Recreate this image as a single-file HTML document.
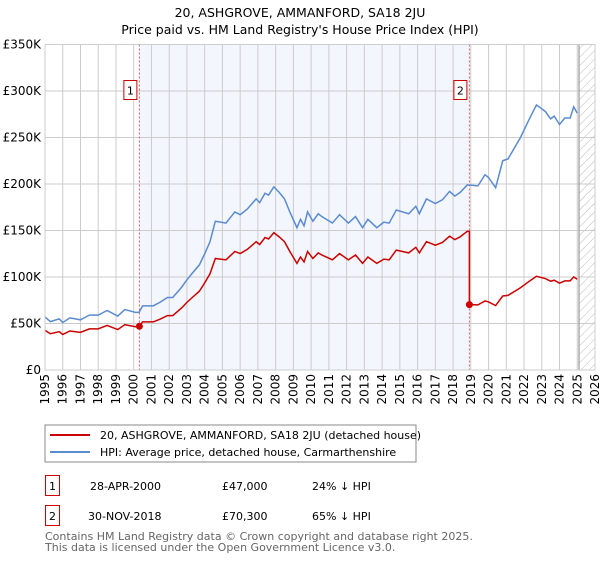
<!DOCTYPE html>
<html><head><meta charset="utf-8"><style>
body{margin:0;background:#fff;font-family:"DejaVu Sans","Liberation Sans",sans-serif;}
svg text{font-family:"DejaVu Sans","Liberation Sans",sans-serif;}
</style></head><body>
<svg id="chart" width="600" height="560" xmlns="http://www.w3.org/2000/svg">
<defs><pattern id="hatch" width="6" height="6" patternUnits="userSpaceOnUse" patternTransform="rotate(45)"><line x1="0" y1="0" x2="0" y2="6" stroke="#bbb" stroke-width="1"/></pattern></defs>
<text x="300" y="17" text-anchor="middle" font-size="12.5">20, ASHGROVE, AMMANFORD, SA18 2JU</text>
<text x="300" y="34" text-anchor="middle" font-size="12.5">Price paid vs. HM Land Registry's House Price Index (HPI)</text>
<g id="plot"></g>
<g>
<rect x="45" y="425" width="371" height="37" fill="#fff" stroke="#888"/>
<line x1="50" y1="435" x2="90" y2="435" stroke="#cc0000" stroke-width="2"/>
<text x="100" y="439" font-size="11">20, ASHGROVE, AMMANFORD, SA18 2JU (detached house)</text>
<line x1="50" y1="452" x2="90" y2="452" stroke="#5b8bd0" stroke-width="2"/>
<text x="100" y="456" font-size="11">HPI: Average price, detached house, Carmarthenshire</text>
</g>
<g font-size="11">
<rect x="45.5" y="475.5" width="14" height="20" fill="#fff" stroke="#cc0000"/>
<text x="52.5" y="490" text-anchor="middle">1</text>
<text x="90" y="490">28-APR-2000</text>
<text x="222" y="490">£47,000</text>
<text x="312" y="490">24% ↓ HPI</text>
<rect x="45.5" y="505.5" width="14" height="20" fill="#fff" stroke="#cc0000"/>
<text x="52.5" y="520" text-anchor="middle">2</text>
<text x="88" y="520">30-NOV-2018</text>
<text x="222" y="520">£70,300</text>
<text x="312" y="520">65% ↓ HPI</text>
</g>
<text x="45" y="540" font-size="11" fill="#666">Contains HM Land Registry data © Crown copyright and database right 2025.</text>
<text x="45" y="551" font-size="11" fill="#666">This data is licensed under the Open Government Licence v3.0.</text>
</svg>
<script>
const hpiYears=[1995,1995.3,1995.8,1996,1996.4,1997,1997.5,1998,1998.5,1999.1,1999.5,2000.1,2000.3,2000.5,2001.1,2001.5,2001.9,2002.2,2002.7,2003,2003.3,2003.7,2004,2004.3,2004.6,2005.2,2005.7,2006,2006.4,2006.9,2007.1,2007.4,2007.6,2007.9,2008.2,2008.5,2008.8,2009.2,2009.4,2009.6,2009.8,2010.1,2010.4,2010.6,2011.2,2011.6,2012.1,2012.5,2012.9,2013.2,2013.7,2014.1,2014.4,2014.8,2015.5,2015.9,2016.1,2016.5,2017,2017.4,2017.8,2018.1,2018.4,2018.8,2019.4,2019.8,2020,2020.4,2020.8,2021.1,2021.8,2022.3,2022.7,2023.2,2023.5,2023.7,2024,2024.3,2024.6,2024.8,2025];
const hpiValues=[57,52,55,51,56,54,59,59,64,58,65,62,62,69,69,73,78,78,89,97,104,113,125,138,160,158,170,167,173,184,180,190,188,197,191,184,170,153,162,155,170,160,168,165,158,167,158,165,153,162,153,159,158,172,168,176,168,184,179,183,192,187,191,199,198,210,207,196,225,227,250,270,285,278,270,273,264,271,271,283,276];
const saleYears=[2000.32,2018.92];
const salePrices=[47,70.3];
const yTicks=[0,50,100,150,200,250,300,350];
const yTickLabels=["£0","£50K","£100K","£150K","£200K","£250K","£300K","£350K"];
const xTicks=[1995,1996,1997,1998,1999,2000,2001,2002,2003,2004,2005,2006,2007,2008,2009,2010,2011,2012,2013,2014,2015,2016,2017,2018,2019,2020,2021,2022,2023,2024,2025,2026];

const NS="http://www.w3.org/2000/svg";
const L=45,R=595,T=44.5,B=370;
const X=y=>L+(y-1995)/(2026-1995)*(R-L);
const Y=v=>B-v/350*(B-T);
const g=document.getElementById('plot');
function mk(t,a){const e=document.createElementNS(NS,t);for(const k in a)e.setAttribute(k,a[k]);g.appendChild(e);return e;}
function hpiAt(yr){for(let i=0;i<hpiYears.length-1;i++){if(yr<=hpiYears[i+1]){const f=(yr-hpiYears[i])/(hpiYears[i+1]-hpiYears[i]);return hpiValues[i]+f*(hpiValues[i+1]-hpiValues[i]);}}return hpiValues[hpiValues.length-1];}

let e=mk('rect',{x:X(saleYears[0]),y:T,width:X(saleYears[1])-X(saleYears[0]),height:B-T,fill:'#eef2fc',opacity:'0.7'});


e=mk('rect',{x:X(2025.1),y:T,width:R-X(2025.1),height:B-T,fill:'url(#hatch)'});


xTicks.forEach(t=>{const l=mk('line',{x1:X(t),x2:X(t),y1:T,y2:B,stroke:'#ccc','stroke-width':1});


const tx=mk('text',{x:0,y:0,'font-size':12,'text-anchor':'end',transform:`translate(${X(t)+4},${B+4}) rotate(-90)`});tx.textContent=t;

});
yTicks.forEach((t,i)=>{const l=mk('line',{x1:L,x2:R,y1:Y(t),y2:Y(t),stroke:'#ccc','stroke-width':1});


const tx=mk('text',{x:L-4,y:Y(t)+4,'font-size':12,'text-anchor':'end'});tx.textContent=yTickLabels[i];

});
e=mk('line',{x1:X(2025.1),x2:X(2025.1),y1:T,y2:B,stroke:'#999','stroke-width':1.2});


saleYears.forEach((s,i)=>{const l=mk('line',{x1:X(s),x2:X(s),y1:T,y2:B,stroke:'#e06060','stroke-width':1,'stroke-dasharray':'2,2'});


const r=mk('rect',{x:X(s)-15.5,y:T+36,width:13,height:19,fill:'#fff',stroke:'#cc0000'});


const tx=mk('text',{x:X(s)-9,y:T+50,'font-size':11,'text-anchor':'middle'});tx.textContent=i+1;

});
e=mk('polyline',{points:hpiYears.map((y,i)=>X(y)+','+Y(hpiValues[i])).join(' '),fill:'none',stroke:'#5b8bd0','stroke-width':1.5});


const pts=[];
hpiYears.forEach((y,i)=>{let k=y<saleYears[1]?0:1;
if(i>0&&hpiYears[i-1]<saleYears[1]&&y>=saleYears[1]){pts.push([saleYears[1],salePrices[0]*hpiAt(saleYears[1])/hpiAt(saleYears[0])]);pts.push([saleYears[1],salePrices[1]]);}
pts.push([y,salePrices[k]*hpiValues[i]/hpiAt(saleYears[k])]);});
e=mk('polyline',{points:pts.map(p=>X(p[0])+','+Y(p[1])).join(' '),fill:'none',stroke:'#cc0000','stroke-width':1.5});


saleYears.forEach((s,i)=>{const c=mk('circle',{cx:X(s),cy:Y(salePrices[i]),r:3.5,fill:'#cc0000'});

});
e=mk('rect',{x:L,y:T,width:R-L,height:B-T,fill:'none',stroke:'#ccc'});


</script>
</body></html>
